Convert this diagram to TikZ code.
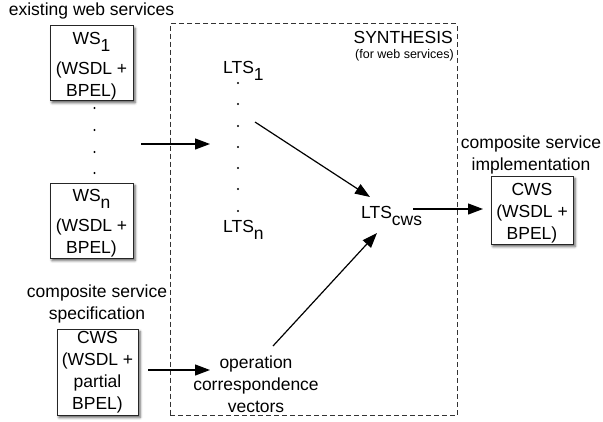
\documentclass[tikz,border=0pt]{standalone}
\usepackage{fontspec}
\setmainfont{Liberation Sans}
\usetikzlibrary{arrows.meta,shadows.blur}
\newcommand\lowsub[1]{\raisebox{-7pt}{#1}}
\begin{document}
\begin{tikzpicture}[x=1pt,y=1pt,
  every node/.style={inner sep=0pt, font=\fontsize{17.5}{22}\selectfont},
  svcbox/.style={draw=black!85, line width=1pt, fill=white, align=center,
    blur shadow={shadow xshift=2pt, shadow yshift=-2.5pt, shadow blur radius=2.5pt, shadow opacity=65}},
  lbl/.style={align=center},
  arr/.style={line width=1.2pt, -{Triangle[length=15pt,width=11pt]}},
  synth/.style={draw=black!80, line width=0.9pt, dash pattern=on 5pt off 3pt},
  dotmark/.style={fill=black}]
\useasboundingbox (0,0) rectangle (603,-421);

% synthesis frame
\node[synth, minimum width=287pt, minimum height=392pt] (frame) at (313.5,-219.5) {};
\node[anchor=base east] (synthlab) at (453,-43) {SYNTHESIS};
\node[anchor=base east, font=\fontsize{12.5}{15}\selectfont] (forws) at (454,-58) {(for web services)};

% left column
\node[anchor=base] (existlab) at (91.5,-15) {existing web services};
\node[svcbox, minimum width=83pt, minimum height=74pt] (ws1) at (91.5,-63)
  {\rule{0pt}{19pt}WS\lowsub{1}\\[8pt](WSDL +\\BPEL)};
\foreach \yy in {108,130,152,173} \fill[dotmark] (94.5,-\yy) circle (1.2pt);
\node[svcbox, minimum width=83pt, minimum height=75pt] (wsn) at (91.5,-220.5)
  {\rule{0pt}{18pt}WS\lowsub{n}\\[8pt](WSDL +\\BPEL)};

\node[lbl, anchor=north] (speclab) at (97,-284.5) {composite service\\specification};
\node[svcbox, minimum width=81pt, minimum height=86pt] (cwsspec) at (97.5,-372)
  {CWS\\(WSDL +\\partial\\BPEL)};

% LTS column
\node[anchor=base west] (lts1) at (223,-73) {LTS\lowsub{1}};
\foreach \yy in {83,104,126,147,168,189,211} \fill[dotmark] (238,-\yy) circle (1.2pt);
\node[anchor=base west] (ltsn) at (223,-232) {LTS\lowsub{n}};
\node[anchor=base west] (ltscws) at (361,-218) {LTS\lowsub{cws}};
\node[lbl, anchor=north] (opv) at (256,-355.5) {operation\\correspondence\\vectors};

% right column
\node[lbl, anchor=north] (implab) at (531,-135.5) {composite service\\implementation};
\node[svcbox, minimum width=82pt, minimum height=68pt] (cwsimpl) at (532,-210)
  {\rule{0pt}{18pt}CWS\\(WSDL +\\BPEL)};

% connector ends
\coordinate (a1s) at (141,-144);
\coordinate (a1e) at (210,-144);
\coordinate (a2s) at (255,-122);
\coordinate (a2e) at (370,-197);
\coordinate (a3s) at (273,-346);
\coordinate (a3e) at (377,-233);
\coordinate (a4s) at (413,-209);
\coordinate (a4e) at (483,-209);
\coordinate (a5s) at (148,-370);
\coordinate (a5e) at (210,-370);

\draw[arr] (a1s) -- (a1e);
\draw[arr] (a2s) -- (a2e);
\draw[arr] (a3s) -- (a3e);
\draw[arr] (a4s) -- (a4e);
\draw[arr] (a5s) -- (a5e);
\end{tikzpicture}
\end{document}
